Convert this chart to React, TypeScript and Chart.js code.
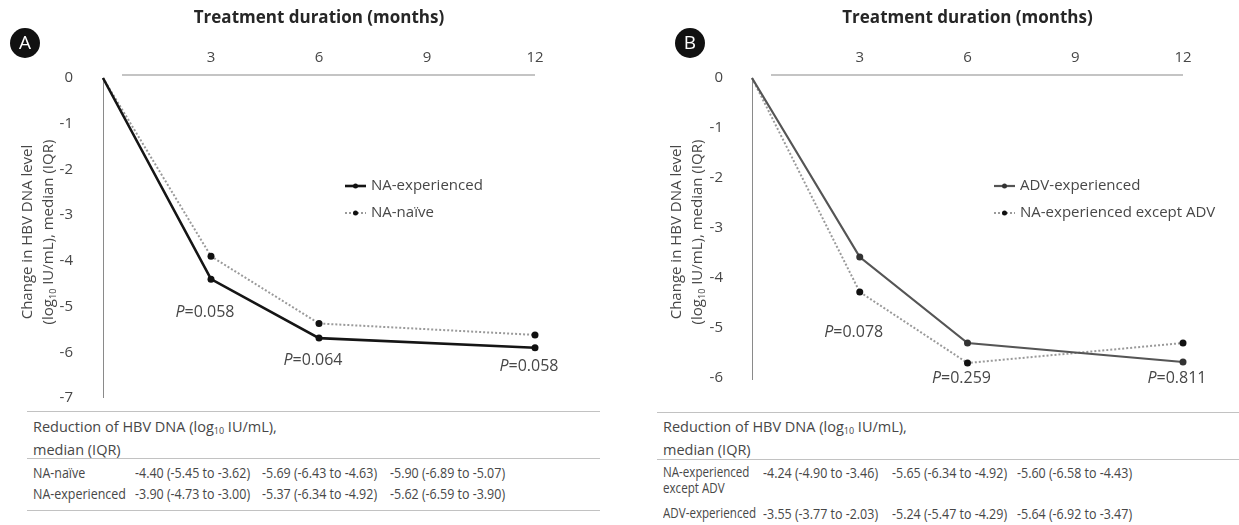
import React, { useEffect, useRef } from "react";
import { Chart, registerables } from "chart.js";
Chart.register(...registerables);

const FONT = '"Open Sans", "Noto Sans", sans-serif';
const TEXT = "#474747";

// ---- data ----
const months = [0, 3, 6, 12];
const xTickMonths = [3, 6, 9, 12];
const yTicksA = [0, -1, -2, -3, -4, -5, -6, -7];
const yTicksB = [0, -1, -2, -3, -4, -5, -6];

const naExperiencedA = [0, -4.4, -5.69, -5.9];
const naNaiveA = [0, -3.9, -5.37, -5.62];
const advExperiencedB = [0, -3.58, -5.3, -5.68];
const naExpExceptAdvB = [0, -4.28, -5.7, -5.3];

const pMonths = [3, 6, 12];
const pValuesA = ["0.058", "0.064", "0.058"];
const pValuesB = ["0.078", "0.259", "0.811"];
const pLabelYA = [-5.12, -6.17, -6.32];
const pLabelYB = [-5.08, -6.0, -6.0];

const tableRowsA = ["NA-naïve", "NA-experienced"];
const tableValsA = [
  ["-4.40 (-5.45 to -3.62)", "-5.69 (-6.43 to -4.63)", "-5.90 (-6.89 to -5.07)"],
  ["-3.90 (-4.73 to -3.00)", "-5.37 (-6.34 to -4.92)", "-5.62 (-6.59 to -3.90)"],
];
const tableRowsB = [["NA-experienced", "except ADV"], ["ADV-experienced"]];
const tableValsB = [
  ["-4.24 (-4.90 to -3.46)", "-5.65 (-6.34 to -4.92)", "-5.60 (-6.58 to -4.43)"],
  ["-3.55 (-3.77 to -2.03)", "-5.24 (-5.47 to -4.29)", "-5.64 (-6.92 to -3.47)"],
];

type Series = {
  label: string;
  values: number[];
  color: string;
  width: number;
  dash: number[];
  pointColor: string;
};

type Panel = {
  letter: string;
  width: number;
  height: number;
  padding: { left: number; right: number; top: number; bottom: number };
  yMin: number;
  yTicks: number[];
  series: Series[];
  pValues: string[];
  pLabelY: number[];
  circle: { x: number; y: number };
  yTickGap: number;
  axisBottomExtra: number;
};

const panelA: Panel = {
  letter: "A",
  width: 620,
  height: 410,
  padding: { left: 103, right: 85, top: 78, bottom: 12 },
  yMin: -7,
  yTicks: yTicksA,
  series: [
    { label: "NA-experienced", values: naExperiencedA, color: "#151515", width: 2.6, dash: [], pointColor: "#111" },
    { label: "NA-naïve", values: naNaiveA, color: "#9a9a9a", width: 2, dash: [2, 2], pointColor: "#111" },
  ],
  pValues: pValuesA,
  pLabelY: pLabelYA,
  circle: { x: 25, y: 43 },
  yTickGap: 30,
  axisBottomExtra: 0,
};

const panelB: Panel = {
  letter: "B",
  width: 619,
  height: 410,
  padding: { left: 132, right: 56, top: 78, bottom: 32 },
  yMin: -6,
  yTicks: yTicksB,
  series: [
    { label: "ADV-experienced", values: advExperiencedB, color: "#555555", width: 2.2, dash: [], pointColor: "#333" },
    { label: "NA-experienced except ADV", values: naExpExceptAdvB, color: "#9a9a9a", width: 2, dash: [2, 2], pointColor: "#111" },
  ],
  pValues: pValuesB,
  pLabelY: pLabelYB,
  circle: { x: 70, y: 43 },
  yTickGap: 29,
  axisBottomExtra: 2,
};

type Seg = { text: string; font: string; dy?: number; color?: string };

function drawSegs(ctx: CanvasRenderingContext2D, segs: Seg[], x: number, y: number, align: "left" | "center" = "center") {
  let total = 0;
  const widths: number[] = [];
  for (const s of segs) {
    ctx.font = s.font;
    const w = ctx.measureText(s.text).width;
    widths.push(w);
    total += w;
  }
  let cx = align === "center" ? x - total / 2 : x;
  ctx.textAlign = "left";
  ctx.textBaseline = "middle";
  segs.forEach((s, i) => {
    ctx.font = s.font;
    if (s.color) ctx.fillStyle = s.color;
    ctx.fillText(s.text, cx, y + (s.dy || 0));
    cx += widths[i];
  });
}

function makePlugin(panel: Panel) {
  return {
    id: "panelDecor" + panel.letter,
    beforeDatasetsDraw(chart: any) {
      const ctx: CanvasRenderingContext2D = chart.ctx;
      const area = chart.chartArea;
      ctx.save();
      // top x axis line
      ctx.strokeStyle = "#c4c4c4";
      ctx.lineWidth = 2;
      ctx.beginPath();
      ctx.moveTo(area.left + 19, area.top - 3);
      ctx.lineTo(area.right, area.top - 3);
      ctx.stroke();
      // y axis line
      ctx.strokeStyle = "#8a8a8a";
      ctx.lineWidth = 1;
      ctx.beginPath();
      ctx.moveTo(area.left + 0.5, area.top);
      ctx.lineTo(area.left + 0.5, area.bottom + panel.axisBottomExtra);
      ctx.stroke();
      ctx.restore();
    },
    afterDraw(chart: any) {
      const ctx: CanvasRenderingContext2D = chart.ctx;
      const xs = chart.scales.x;
      const ys = chart.scales.y;
      const area = chart.chartArea;
      const cxMid = (area.left + area.right) / 2;
      ctx.save();
      // circle letter
      ctx.fillStyle = "#111";
      ctx.beginPath();
      ctx.arc(panel.circle.x, panel.circle.y, 15, 0, Math.PI * 2);
      ctx.fill();
      ctx.fillStyle = "#fff";
      ctx.font = `19px ${FONT}`;
      ctx.textAlign = "center";
      ctx.textBaseline = "middle";
      ctx.fillText(panel.letter, panel.circle.x, panel.circle.y + 1);
      // title
      ctx.fillStyle = "#262626";
      ctx.font = `bold 17px ${FONT}`;
      ctx.fillText("Treatment duration (months)", cxMid, area.top - 60);
      // x tick labels
      ctx.fillStyle = TEXT;
      ctx.font = `15px ${FONT}`;
      for (const m of xTickMonths) {
        ctx.fillText(String(m), xs.getPixelForValue(m), area.top - 20);
      }
      // y tick labels
      ctx.textAlign = "right";
      for (const t of panel.yTicks) {
        ctx.fillText(String(t), area.left - panel.yTickGap, ys.getPixelForValue(t));
      }
      // y title
      const yc = 232;
      const f = `15px ${FONT}`;
      ctx.fillStyle = TEXT;
      ctx.save();
      ctx.translate(area.left - 75, yc);
      ctx.rotate(-Math.PI / 2);
      drawSegs(ctx, [{ text: "Change in HBV DNA level", font: f }], 0, 0);
      ctx.restore();
      ctx.save();
      ctx.translate(area.left - 54, yc);
      ctx.rotate(-Math.PI / 2);
      drawSegs(ctx, [
        { text: "(log", font: f },
        { text: "10", font: `9px ${FONT}`, dy: 4 },
        { text: " IU/mL), median (IQR)", font: f },
      ], 0, 0);
      ctx.restore();
      // legend
      panel.series.forEach((s, i) => {
        const lx = area.left + 242;
        const ly = area.top + 108 + i * 27;
        ctx.strokeStyle = s.color;
        ctx.lineWidth = s.width;
        ctx.setLineDash(s.dash);
        ctx.beginPath();
        ctx.moveTo(lx, ly);
        ctx.lineTo(lx + 21, ly);
        ctx.stroke();
        ctx.setLineDash([]);
        ctx.fillStyle = s.pointColor;
        ctx.beginPath();
        ctx.arc(lx + 10.5, ly, 2.5, 0, Math.PI * 2);
        ctx.fill();
        ctx.fillStyle = TEXT;
        drawSegs(ctx, [{ text: s.label, font: `15px ${FONT}` }], lx + 26, ly, "left");
      });
      // P labels
      panel.pValues.forEach((p, i) => {
        const px = xs.getPixelForValue(pMonths[i]) - 6;
        const py = ys.getPixelForValue(panel.pLabelY[i]);
        drawSegs(ctx, [
          { text: "P", font: `italic 16px ${FONT}`, color: TEXT },
          { text: "=" + p, font: `16px ${FONT}`, color: TEXT },
        ], px, py);
      });
      ctx.restore();
    },
  };
}

function PanelChart({ panel, left }: { panel: Panel; left: number }) {
  const ref = useRef<HTMLCanvasElement>(null);
  useEffect(() => {
    if (!ref.current) return;
    const chart = new Chart(ref.current, {
      type: "line",
      data: {
        datasets: panel.series.map((s) => ({
          label: s.label,
          data: months.map((m, i) => ({ x: m, y: s.values[i] })),
          borderColor: s.color,
          borderWidth: s.width,
          borderDash: s.dash,
          pointRadius: months.map((m) => (m === 0 ? 0 : 3.5)),
          pointBackgroundColor: s.pointColor,
          pointBorderWidth: 0,
          tension: 0,
          clip: false,
        })),
      },
      options: {
        responsive: false,
        animation: false,
        layout: { padding: panel.padding },
        plugins: { legend: { display: false }, tooltip: { enabled: false } },
        scales: {
          x: { type: "linear", min: 0, max: 12, display: false },
          y: { type: "linear", min: panel.yMin, max: 0, display: false },
        },
      } as any,
      plugins: [makePlugin(panel) as any],
    });
    return () => chart.destroy();
  }, [panel]);
  return (
    <canvas
      ref={ref}
      width={panel.width}
      height={panel.height}
      style={{ position: "absolute", left, top: 0 }}
    />
  );
}

const cellStyle: React.CSSProperties = {
  position: "absolute",
  fontFamily: FONT,
  fontSize: 14.5,
  color: TEXT,
  whiteSpace: "nowrap",
  lineHeight: "17px",
};

const narrow: React.CSSProperties = {
  transform: "scaleX(0.86)",
  transformOrigin: "left center",
};

const narrower: React.CSSProperties = {
  transform: "scaleX(0.8)",
  transformOrigin: "left center",
};

function HLine({ x, y, w }: { x: number; y: number; w: number }) {
  return <div style={{ position: "absolute", left: x, top: y, width: w, height: 0, borderTop: "1.5px solid #c2c2c2" }} />;
}

function Header({ x, y }: { x: number; y: number }) {
  return (
    <div style={{ ...cellStyle, left: x, top: y, lineHeight: "19px" }}>
      Reduction of HBV DNA (log<sub style={{ fontSize: 9, verticalAlign: "-2px" }}>10</sub> IU/mL),
      <br />
      median (IQR)
    </div>
  );
}

export default function App() {
  const colsA = [135, 262, 390];
  const rowYA = [464, 485];
  const colsB = [763, 892, 1017];
  const rowYB = [464, 505];
  return (
    <div style={{ position: "absolute", left: 0, top: 0, width: 1239, height: 525, background: "#fff", overflow: "hidden" }}>
      <PanelChart panel={panelA} left={0} />
      <PanelChart panel={panelB} left={620} />
      {/* Table A */}
      <HLine x={27} y={411} w={573} />
      <Header x={33} y={417} />
      <HLine x={27} y={458} w={573} />
      {tableRowsA.map((r, i) => (
        <React.Fragment key={r}>
          <div style={{ ...cellStyle, ...narrow, left: 33, top: rowYA[i] }}>{r}</div>
          {tableValsA[i].map((v, j) => (
            <div key={j} style={{ ...cellStyle, ...narrow, left: colsA[j], top: rowYA[i] }}>{v}</div>
          ))}
        </React.Fragment>
      ))}
      <HLine x={27} y={510} w={573} />
      {/* Table B */}
      <HLine x={657} y={412} w={582} />
      <Header x={663} y={417} />
      <HLine x={657} y={459} w={582} />
      {tableRowsB.map((r, i) => (
        <React.Fragment key={i}>
          <div style={{ ...cellStyle, ...narrower, left: 663, top: rowYB[i], lineHeight: "16px" }}>
            {r.map((t, k) => (
              <div key={k}>{t}</div>
            ))}
          </div>
          {tableValsB[i].map((v, j) => (
            <div key={j} style={{ ...cellStyle, ...narrow, left: colsB[j], top: rowYB[i] }}>{v}</div>
          ))}
        </React.Fragment>
      ))}
    </div>
  );
}
